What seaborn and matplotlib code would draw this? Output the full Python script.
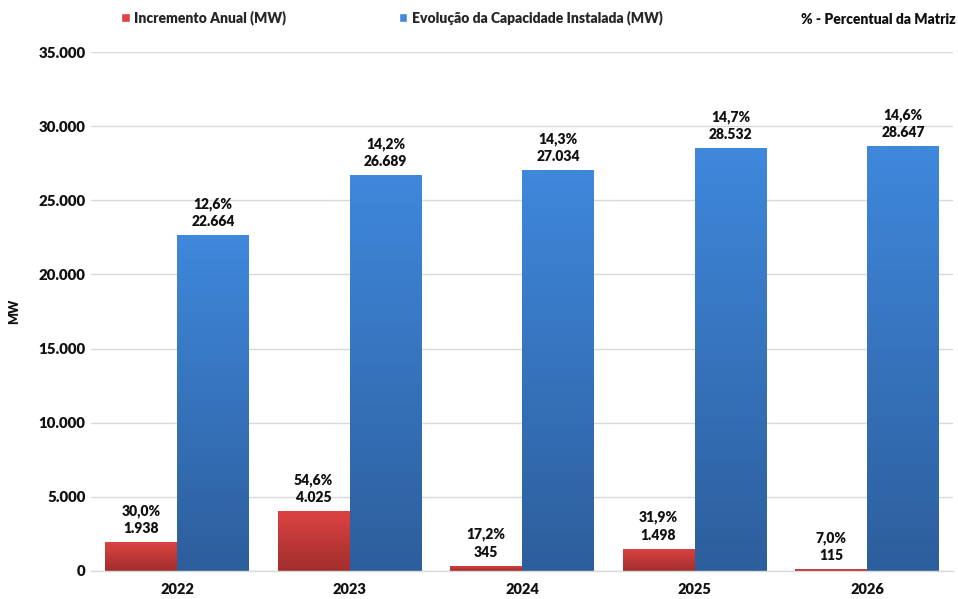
import numpy as np
import pandas as pd
import matplotlib
matplotlib.use("Agg")
import matplotlib.pyplot as plt
import seaborn as sns
from matplotlib.colors import LinearSegmentedColormap
from matplotlib.patches import Patch

years = ["2022", "2023", "2024", "2025", "2026"]
incremento = [1938, 4025, 345, 1498, 115]
incremento_pct = ["30,0%", "54,6%", "17,2%", "31,9%", "7,0%"]
capacidade = [22664, 26689, 27034, 28532, 28647]
capacidade_pct = ["12,6%", "14,2%", "14,3%", "14,7%", "14,6%"]
series_names = ["Incremento Anual (MW)", "Evolução da Capacidade Instalada (MW)"]
yticks = [0, 5000, 10000, 15000, 20000, 25000, 30000, 35000]

def fmt(v):
    return f"{int(v):,}".replace(",", ".")

df = pd.DataFrame({
    "Ano": years * 2,
    "Série": [series_names[0]] * len(years) + [series_names[1]] * len(years),
    "MW": incremento + capacidade,
})

sns.set_theme(style="white")
plt.rcParams["font.family"] = ["Lato", "DejaVu Sans"]
W = "heavy"
TXT = "#111111"

fig = plt.figure(figsize=(9.58, 5.99), dpi=100)
ax = fig.add_axes([0.095, 0.047, 0.9, 0.866])

red_top, red_bot = "#dc4342", "#a02e2d"
blue_top, blue_bot = "#3f88dc", "#2d5e9c"

sns.barplot(data=df, x="Ano", y="MW", hue="Série", order=years, hue_order=series_names,
            palette=[red_top, blue_top], width=0.835, saturation=1, ax=ax,
            legend=False, edgecolor="none")

# gradients
grads = [(red_top, red_bot), (blue_top, blue_bot)]
for cont, (ct, cb) in zip(ax.containers, grads):
    cmap = LinearSegmentedColormap.from_list("g", [cb, ct])
    grad = np.linspace(0, 1, 256).reshape(-1, 1)
    for p in cont.patches:
        x0, y0 = p.get_x(), p.get_y()
        w, h = p.get_width(), p.get_height()
        if h <= 0:
            continue
        im = ax.imshow(grad, cmap=cmap, aspect="auto", origin="lower",
                       extent=[x0, x0 + w, y0, y0 + h], zorder=p.get_zorder(),
                       interpolation="bilinear")
        im.set_clip_path(p)
        p.set_facecolor("none")
ax.set_xlim(-0.5, len(years) - 0.5)
ax.set_ylim(0, 35000)

# labels
for cont, vals, pcts in zip(ax.containers, [incremento, capacidade], [incremento_pct, capacidade_pct]):
    for p, v, pc in zip(cont.patches, vals, pcts):
        ax.annotate(f"{pc}\n{fmt(v)}", (p.get_x() + p.get_width() / 2, p.get_height()),
                    xytext=(0, 5), textcoords="offset points", ha="center", va="bottom",
                    fontsize=10, fontweight=W, color=TXT, linespacing=1.4)

ax.set_yticks(yticks)
ax.set_yticklabels([fmt(t) for t in yticks], fontsize=10.8, fontweight=W, color=TXT)
ax.yaxis.grid(True, color="#d9d9d9", lw=1)
ax.set_axisbelow(True)
ax.tick_params(axis="y", length=0, pad=4)
ax.tick_params(axis="x", which="major", length=0, pad=9, labelsize=10.5)
for lab in ax.get_xticklabels():
    lab.set_fontweight(W)
    lab.set_color(TXT)
ax.set_xticks(np.arange(-0.5, len(years), 1), minor=True)
ax.tick_params(axis="x", which="minor", length=5, color="#d9d9d9", width=1, direction="out")
ax.set_xlabel("")
ax.set_ylabel("MW", fontsize=9, fontweight=W, color=TXT)
ax.yaxis.set_label_coords(-0.082, 0.5)
for s in ["top", "right", "left"]:
    ax.spines[s].set_visible(False)
ax.spines["bottom"].set_color("#d9d9d9")
ax.spines["bottom"].set_linewidth(1)

handles = [Patch(facecolor=red_top), Patch(facecolor=blue_top)]
fig.legend(handles, series_names, loc="center", bbox_to_anchor=(0.409, 0.971), ncol=2,
           frameon=False, handlelength=0.6, handleheight=0.6, handletextpad=0.3,
           columnspacing=8.15, prop={"weight": W, "size": 10})
fig.text(0.997, 0.968, "% - Percentual da Matriz", ha="right", va="center",
         fontsize=10, fontweight=W, color=TXT)

fig.savefig("out.png", dpi=100, facecolor="white")
